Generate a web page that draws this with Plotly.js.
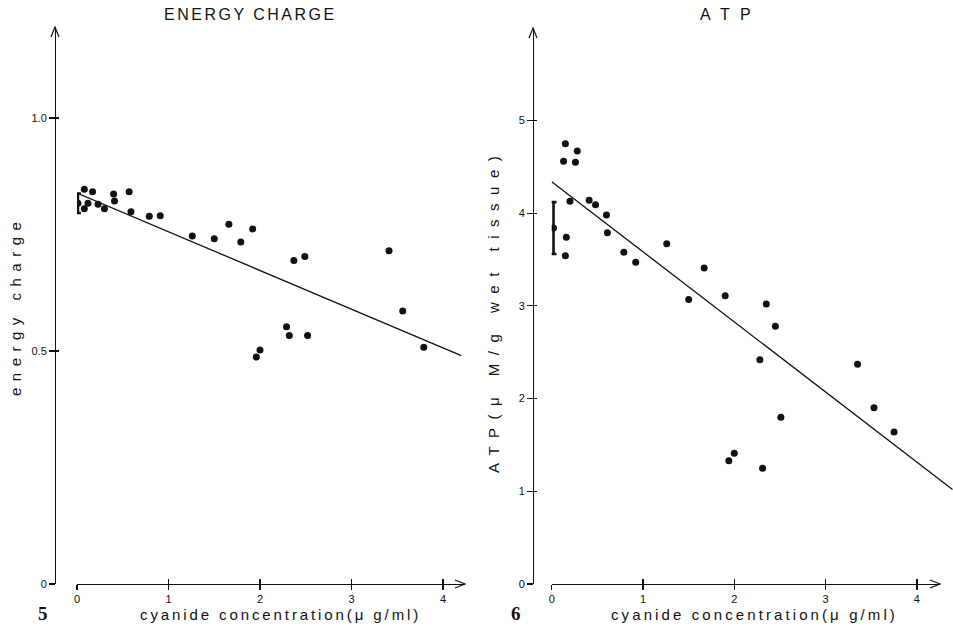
<!DOCTYPE html>
<html>
<head>
<meta charset="utf-8">
<script src="https://cdn.plot.ly/plotly-3.0.1.min.js"></script>
<style>
html,body{margin:0;padding:0;background:#fff;}
#chart{width:953px;height:632px;}
</style>
</head>
<body>
<div id="chart"></div>
<script>
// ---------- data ----------
// Fig. 5: energy charge vs cyanide concentration
const ecX = [0.08,0.17,0.40,0.57,0.41,0.12,0.23,0.08,0.30,0.59,0.79,0.91,1.26,1.50,1.66,1.79,1.92,2.37,2.49,3.41,3.56,3.79,2.29,2.32,2.52,2.00,1.96];
const ecY = [0.847,0.842,0.837,0.842,0.822,0.817,0.815,0.805,0.805,0.799,0.789,0.790,0.747,0.741,0.772,0.734,0.762,0.694,0.703,0.715,0.586,0.508,0.552,0.533,0.533,0.502,0.487];
const ecMeanX = [0.01];
const ecMeanY = [0.817];
const ecErr = [0.021];
const ecLineX = [0, 4.2];
const ecLineY = [0.839, 0.49];

// Fig. 6: ATP vs cyanide concentration
const atpX = [0.15,0.13,0.28,0.26,0.20,0.41,0.48,0.60,0.61,0.16,0.15,0.79,0.92,1.26,1.67,1.50,1.90,2.35,2.45,2.28,3.35,3.53,3.75,2.51,2.00,1.94,2.31];
const atpY = [4.75,4.56,4.67,4.55,4.13,4.14,4.09,3.98,3.79,3.74,3.54,3.58,3.47,3.67,3.41,3.07,3.11,3.02,2.78,2.42,2.37,1.90,1.64,1.80,1.41,1.33,1.25];
const atpMeanX = [0.02];
const atpMeanY = [3.84];
const atpErr = [0.28];
const atpLineX = [0, 4.39];
const atpLineY = [4.34, 1.02];

// tick labels
const xTickVals = [0,1,2,3,4];
const xTickText = ['0','1','2','3','4'];
const ecTickVals = [0,0.5,1.0];
const ecTickText = ['0','0.5','1.0'];
const atpTickVals = [0,1,2,3,4,5];
const atpTickText = ['0','1','2','3','4','5'];

// ---------- layout geometry ----------
const W = 953, H = 632;
const INK = '#111';
const FONT = 'Liberation Sans, Arial, sans-serif';
const fx = px => px / W;
const fy = py => (H - py) / H;

const xAxisY = fy(584);
const leftYAxisX = fx(55);
const rightYAxisX = fx(533);

const baseAxis = {
  showgrid:false, zeroline:false, automargin:false, fixedrange:true,
  linecolor:INK, linewidth:1.2, tickcolor:INK, tickwidth:1.2,
  tickfont:{family:FONT, size:11, color:INK}
};
function visAxis(extra){ return Object.assign({}, baseAxis, extra); }

const layout = {
  width:W, height:H,
  margin:{l:0,r:0,t:0,b:0,pad:0},
  paper_bgcolor:'#fff', plot_bgcolor:'rgba(0,0,0,0)',
  showlegend:false,
  // left panel
  xaxis: visAxis({domain:[fx(77), fx(465)], range:[0, 388/91.5], anchor:'free', position:xAxisY,
                  showline:true, ticks:'outside', ticklen:5, tickvals:xTickVals, ticktext:xTickText}),
  yaxis: visAxis({domain:[fy(584), fy(27)], range:[0, 557/466], anchor:'free', position:leftYAxisX,
                  showline:true, ticks:'outside', ticklen:6, tickvals:ecTickVals, ticktext:ecTickText}),
  xaxis4: visAxis({overlaying:'x', range:[0, 388/91.5], anchor:'free', position:xAxisY,
                  showline:false, ticks:'inside', ticklen:5, tickvals:xTickVals, showticklabels:false}),
  yaxis4: visAxis({overlaying:'y', range:[0, 557/466], anchor:'free', position:leftYAxisX,
                  showline:false, ticks:'inside', ticklen:3, tickvals:ecTickVals, showticklabels:false}),
  // right panel (visible x axis)
  xaxis2: visAxis({domain:[fx(551.7), fx(940)], range:[0, 388.3/91.3], anchor:'free', position:xAxisY,
                  showline:true, ticks:'outside', ticklen:5, tickvals:xTickVals, ticktext:xTickText}),
  // right panel data axis (same scale, reaches the page edge)
  xaxis3: visAxis({domain:[fx(551.7), 1], range:[0, 401.3/91.3], anchor:'y2', visible:false}),
  yaxis2: visAxis({domain:[fy(584), fy(28)], range:[0, 556/92.7], anchor:'free', position:rightYAxisX,
                  showline:true, ticks:'outside', ticklen:6, tickvals:atpTickVals, ticktext:atpTickText}),
  xaxis5: visAxis({overlaying:'x2', range:[0, 388.3/91.3], anchor:'free', position:xAxisY,
                  showline:false, ticks:'inside', ticklen:5, tickvals:xTickVals, showticklabels:false}),
  yaxis5: visAxis({overlaying:'y2', range:[0, 556/92.7], anchor:'free', position:rightYAxisX,
                  showline:false, ticks:'inside', ticklen:3, tickvals:atpTickVals, showticklabels:false}),
  shapes:[
    {type:'path', xref:'x domain', yref:'y domain', xsizemode:'pixel', ysizemode:'pixel', xanchor:1, yanchor:0,
     path:'M-10,-4L0,0L-10,4', line:{color:INK,width:1.2}},
    {type:'path', xref:'paper', yref:'y domain', xsizemode:'pixel', ysizemode:'pixel', xanchor:leftYAxisX, yanchor:1,
     path:'M-4,-10L0,0L4,-10', line:{color:INK,width:1.2}},
    {type:'path', xref:'x2 domain', yref:'y2 domain', xsizemode:'pixel', ysizemode:'pixel', xanchor:1, yanchor:0,
     path:'M-10,-4L0,0L-10,4', line:{color:INK,width:1.2}},
    {type:'path', xref:'paper', yref:'y2 domain', xsizemode:'pixel', ysizemode:'pixel', xanchor:rightYAxisX, yanchor:1,
     path:'M-4,-10L0,0L4,-10', line:{color:INK,width:1.2}}
  ],
  annotations:[
    {text:'<span style="letter-spacing:2.5px">ENERGY CHARGE</span>', x:fx(250), y:fy(14), xref:'paper', yref:'paper',
     showarrow:false, xanchor:'center', yanchor:'middle', font:{family:FONT, size:16, color:INK}},
    {text:'<span style="letter-spacing:3px">A T P</span>', x:fx(727), y:fy(14), xref:'paper', yref:'paper',
     showarrow:false, xanchor:'center', yanchor:'middle', font:{family:FONT, size:16, color:INK}},
    {text:'<span style="letter-spacing:6.5px">energy charge</span>', x:fx(15), y:fy(306), xref:'paper', yref:'paper',
     showarrow:false, xanchor:'center', yanchor:'middle', textangle:-90, font:{family:FONT, size:15, color:INK}},
    {text:'<span style="letter-spacing:8.5px">ATP(μ M/g wet tissue)</span>', x:fx(494), y:fy(310), xref:'paper', yref:'paper',
     showarrow:false, xanchor:'center', yanchor:'middle', textangle:-90, font:{family:FONT, size:15, color:INK}},
    {text:'<span style="letter-spacing:2.9px">cyanide concentration(μ g/ml)</span>', x:fx(280), y:fy(614), xref:'paper', yref:'paper',
     showarrow:false, xanchor:'center', yanchor:'middle', font:{family:FONT, size:15, color:INK}},
    {text:'<span style="letter-spacing:3.1px">cyanide concentration(μ g/ml)</span>', x:fx(754), y:fy(614), xref:'paper', yref:'paper',
     showarrow:false, xanchor:'center', yanchor:'middle', font:{family:FONT, size:15, color:INK}},
    {text:'<b>5</b>', x:fx(43), y:fy(613), xref:'paper', yref:'paper',
     showarrow:false, xanchor:'center', yanchor:'middle', font:{family:'Liberation Serif, serif', size:19, color:INK}},
    {text:'<b>6</b>', x:fx(516), y:fy(613), xref:'paper', yref:'paper',
     showarrow:false, xanchor:'center', yanchor:'middle', font:{family:'Liberation Serif, serif', size:19, color:INK}}
  ]
};

const dot = {color:INK, size:7};
const hidden = {mode:'markers', marker:{opacity:0}, hoverinfo:'skip', showlegend:false};

const traces = [
  // left panel
  {x:ecLineX, y:ecLineY, xaxis:'x', yaxis:'y', mode:'lines', line:{color:INK, width:1.3}, hoverinfo:'skip'},
  {x:ecX, y:ecY, xaxis:'x', yaxis:'y', mode:'markers', marker:dot},
  {x:ecMeanX, y:ecMeanY, xaxis:'x', yaxis:'y', mode:'markers', marker:dot,
   error_y:{type:'data', array:ecErr, visible:true, color:INK, thickness:2.6, width:3}},
  // right panel
  {x:atpLineX, y:atpLineY, xaxis:'x3', yaxis:'y2', mode:'lines', line:{color:INK, width:1.3}, hoverinfo:'skip'},
  {x:atpX, y:atpY, xaxis:'x3', yaxis:'y2', mode:'markers', marker:dot},
  {x:atpMeanX, y:atpMeanY, xaxis:'x3', yaxis:'y2', mode:'markers', marker:dot,
   error_y:{type:'data', array:atpErr, visible:true, color:INK, thickness:2.6, width:3}},
  // invisible anchors so the axis-only subplots are drawn
  Object.assign({x:[0], y:[0], xaxis:'x2', yaxis:'y2'}, hidden),
  Object.assign({x:[0], y:[0], xaxis:'x4', yaxis:'y'}, hidden),
  Object.assign({x:[0], y:[0], xaxis:'x', yaxis:'y4'}, hidden),
  Object.assign({x:[0], y:[0], xaxis:'x5', yaxis:'y2'}, hidden),
  Object.assign({x:[0], y:[0], xaxis:'x2', yaxis:'y5'}, hidden)
];

Plotly.newPlot('chart', traces, layout, {staticPlot:true, displayModeBar:false});
</script>
</body>
</html>
